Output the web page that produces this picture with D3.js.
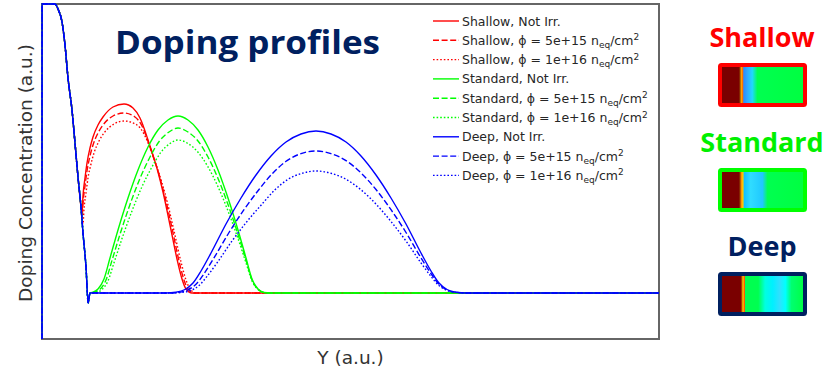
<!DOCTYPE html>
<html>
<head>
<meta charset="utf-8">
<script src="https://cdn.jsdelivr.net/npm/d3@7"></script>
<style>
  html, body { margin: 0; padding: 0; background: #ffffff; }
  svg { display: block; }
</style>
</head>
<body>
<svg id="chart" width="832" height="370"></svg>
<script>
// ---- Doping profile data (arbitrary units: [depth Y, concentration]) ----

// Surface n+ implant, common to every profile
const frontProfile = [
  [0, -4.6], [0.01, 28.9], [1.3, 28.9], [1.6, 28.4], [2.0, 27.1], [2.3, 24.8],
  [2.6, 21.5], [3.0, 18.3], [3.3, 15.0], [3.6, 11.6], [3.9, 8.6]
];
// Tail of the surface implant down to the junction dip
const frontDip = [
  [4.1, 6.0], [4.4, 2.6], [4.62, -1.0], [4.8, 0.0], [5.1, 0.0]
];

const xMax = 61.7;

const shallowNotIrr = [
  [4.0, 7.9], [4.1, 9.7], [4.3, 11.5], [4.5, 13.0], [4.8, 14.5], [5.1, 15.6],
  [5.6, 16.8], [6.1, 17.6], [7.1, 18.6], [8.2, 18.9], [9.1, 18.5], [9.8, 17.5],
  [10.7, 15.0], [11.6, 12.1], [12.1, 10.1], [12.8, 6.8], [13.5, 3.4], [14.0, 1.4],
  [14.4, 0.4], [15.0, 0.0], [xMax, 0.0]
];
const shallowPhi5e15 = [
  [4.0, 7.5], [4.1, 9.0], [4.3, 10.7], [4.5, 12.2], [4.8, 13.7], [5.1, 14.8],
  [5.6, 16.0], [6.1, 16.8], [7.1, 17.7], [8.2, 18.0], [9.3, 17.6], [10.0, 16.7],
  [10.9, 14.3], [11.8, 11.5], [12.3, 9.6], [13.0, 6.5], [13.7, 3.2], [14.2, 1.3],
  [14.6, 0.4], [15.2, 0.0], [xMax, 0.0]
];
const shallowPhi1e16 = [
  [4.1, 6.9], [4.2, 8.4], [4.4, 10.0], [4.6, 11.5], [4.9, 12.9], [5.2, 14.0],
  [5.7, 15.2], [6.2, 16.0], [7.2, 16.9], [8.2, 17.2], [9.5, 16.8], [10.2, 15.9],
  [11.1, 13.7], [12.0, 11.0], [12.5, 9.2], [13.2, 6.2], [13.9, 3.1], [14.4, 1.3],
  [14.8, 0.4], [15.4, 0.0], [xMax, 0.0]
];

const standardNotIrr = [
  [5.0, 0.05], [5.6, 0.4], [6.2, 1.4], [6.8, 3.5], [7.6, 6.3], [8.6, 9.5],
  [9.6, 12.3], [10.6, 14.6], [11.6, 16.3], [12.6, 17.3], [13.6, 17.7], [14.6, 17.3],
  [15.6, 16.3], [16.6, 14.6], [17.6, 12.3], [18.6, 9.5], [19.6, 6.3], [20.4, 3.5],
  [21.0, 1.4], [21.6, 0.4], [22.2, 0.05], [22.8, 0.0], [xMax, 0.0]
];
const standardPhi5e15 = [
  [5.2, 0.05], [5.8, 0.37], [6.4, 1.3], [7.0, 3.26], [7.8, 5.87], [8.8, 8.85],
  [9.8, 11.46], [10.8, 13.6], [11.75, 15.2], [12.7, 16.1], [13.6, 16.5], [14.6, 16.1],
  [15.6, 15.2], [16.6, 13.6], [17.6, 11.46], [18.6, 8.85], [19.6, 5.87], [20.4, 3.26],
  [21.0, 1.3], [21.6, 0.37], [22.2, 0.05], [22.8, 0.0], [xMax, 0.0]
];
const standardPhi1e16 = [
  [5.4, 0.04], [6.0, 0.35], [6.6, 1.21], [7.2, 3.02], [8.0, 5.44], [9.0, 8.21],
  [10.0, 10.63], [11.0, 12.61], [11.9, 14.08], [12.8, 14.95], [13.6, 15.3], [14.6, 14.95],
  [15.6, 14.08], [16.6, 12.61], [17.6, 10.63], [18.6, 8.21], [19.6, 5.44], [20.4, 3.02],
  [21.0, 1.21], [21.6, 0.35], [22.2, 0.04], [22.8, 0.0], [xMax, 0.0]
];

const deepNotIrr = [
  [10.8, 0.0], [12.4, 0.0], [13.4, 0.08], [14.3, 0.35], [15.1, 1.0], [15.9, 2.2],
  [16.9, 4.0], [18.4, 6.9], [19.9, 9.5], [21.4, 11.8], [22.9, 13.7], [24.4, 15.1],
  [25.9, 15.9], [27.4, 16.2], [28.9, 15.9], [30.4, 15.1], [31.9, 13.7], [33.4, 11.8],
  [34.9, 9.5], [36.4, 6.9], [37.9, 4.0], [38.9, 2.2], [39.7, 1.0], [40.5, 0.35],
  [41.4, 0.08], [42.4, 0.0], [xMax, 0.0]
];
const deepPhi5e15 = [
  [10.8, 0.0], [12.7, 0.0], [13.7, 0.07], [14.6, 0.31], [15.4, 0.88], [16.2, 1.93],
  [17.2, 3.51], [18.7, 6.05], [20.2, 8.33], [21.7, 10.35], [23.1, 12.01], [24.5, 13.24],
  [25.9, 13.94], [27.4, 14.2], [28.9, 13.94], [30.4, 13.24], [31.9, 12.01], [33.4, 10.35],
  [34.9, 8.33], [36.4, 6.05], [37.9, 3.51], [38.9, 1.93], [39.7, 0.88], [40.5, 0.31],
  [41.4, 0.07], [42.4, 0.0], [xMax, 0.0]
];
const deepPhi1e16 = [
  [10.8, 0.0], [13.0, 0.0], [14.0, 0.06], [14.9, 0.26], [15.7, 0.75], [16.5, 1.66],
  [17.5, 3.01], [19.0, 5.2], [20.5, 7.15], [22.0, 8.89], [23.3, 10.32], [24.6, 11.37],
  [26.0, 11.97], [27.4, 12.2], [28.9, 11.97], [30.4, 11.37], [31.9, 10.32], [33.4, 8.89],
  [34.9, 7.15], [36.4, 5.2], [37.9, 3.01], [38.9, 1.66], [39.7, 0.75], [40.5, 0.26],
  [41.4, 0.06], [42.4, 0.0], [xMax, 0.0]
];

// Legend text pieces
const profileNames = ["Shallow", "Standard", "Deep"];
const fluences = [null, "5e+15", "1e+16"];
const fluenceUnit = { base: "n", sub: "eq", mid: "/cm", sup: "2" };

// ---- Styling ----
const profileColors = { Shallow: "#ff0000", Standard: "#00ff00", Deep: "#0000ff" };
const labelColors = { Shallow: "#ff0000", Standard: "#00f000", Deep: "#002060" };
const boxColors = { Shallow: "#ff0000", Standard: "#00ff00", Deep: "#002060" };
const dashes = [null, "6,2.6", "1.6,2.0"];

// Each profile: which arrays make up its path
const series = [
  { name: "Shallow", f: 0, data: frontProfile.concat(shallowNotIrr) },
  { name: "Shallow", f: 1, data: frontProfile.concat(shallowPhi5e15) },
  { name: "Shallow", f: 2, data: frontProfile.concat(shallowPhi1e16) },
  { name: "Standard", f: 0, data: frontProfile.concat(frontDip.slice(0, 4), standardNotIrr) },
  { name: "Standard", f: 1, data: frontProfile.concat(frontDip, standardPhi5e15) },
  { name: "Standard", f: 2, data: frontProfile.concat(frontDip, standardPhi1e16) },
  { name: "Deep", f: 0, data: frontProfile.concat(frontDip, deepNotIrr) },
  { name: "Deep", f: 1, data: frontProfile.concat(frontDip, deepPhi5e15) },
  { name: "Deep", f: 2, data: frontProfile.concat(frontDip, deepPhi1e16) }
];

// ---- Layout ----
const plot = { left: 42, right: 659, top: 4, bottom: 339 };

const svg = d3.select("#chart");

const x = d3.scaleLinear().domain([0, xMax]).range([plot.left, plot.right]);
const y = d3.scaleLinear().domain([-4.6, 28.9]).range([plot.bottom, plot.top]);

const defs = svg.append("defs");
defs.append("clipPath").attr("id", "plot-clip")
  .append("rect")
  .attr("x", plot.left - 1).attr("y", plot.top - 1)
  .attr("width", plot.right - plot.left + 2)
  .attr("height", plot.bottom - plot.top + 2);

// Axes frame (no ticks)
svg.append("rect")
  .attr("x", plot.left).attr("y", plot.top)
  .attr("width", plot.right - plot.left)
  .attr("height", plot.bottom - plot.top)
  .attr("fill", "none")
  .attr("stroke", "#666")
  .attr("stroke-width", 2);

const line = d3.line()
  .x(d => x(d[0]))
  .y(d => y(d[1]))
  .curve(d3.curveMonotoneX);

svg.append("g").attr("clip-path", "url(#plot-clip)")
  .selectAll("path")
  .data(series)
  .join("path")
  .attr("d", d => line(d.data))
  .attr("fill", "none")
  .attr("stroke", d => profileColors[d.name])
  .attr("stroke-width", 1.4)
  .attr("stroke-dasharray", d => dashes[d.f]);

// Axis labels
svg.append("text")
  .attr("x", (plot.left + plot.right) / 2)
  .attr("y", 364)
  .attr("text-anchor", "middle")
  .attr("font-family", "DejaVu Sans")
  .attr("font-size", 18.5)
  .attr("fill", "#333")
  .text("Y (a.u.)");

svg.append("text")
  .attr("transform", "translate(32,173) rotate(-90)")
  .attr("text-anchor", "middle")
  .attr("font-family", "DejaVu Sans")
  .attr("font-size", 18.5)
  .attr("fill", "#333")
  .text("Doping Concentration (a.u.)");

// Title
svg.append("text")
  .attr("x", 115)
  .attr("y", 54)
  .attr("font-family", "Open Sans")
  .attr("font-weight", 700)
  .attr("font-size", 33)
  .attr("textLength", 265)
  .attr("lengthAdjust", "spacingAndGlyphs")
  .attr("fill", "#002060")
  .text("Doping profiles");

// Legend
const legend = svg.append("g").attr("font-family", "DejaVu Sans").attr("font-size", 12.5).attr("fill", "#262626");
series.forEach((s, i) => {
  const cy = 21 + i * 19.3;
  legend.append("line")
    .attr("x1", 433).attr("x2", 459)
    .attr("y1", cy).attr("y2", cy)
    .attr("stroke", profileColors[s.name])
    .attr("stroke-width", 1.4)
    .attr("stroke-dasharray", dashes[s.f]);
  const t = legend.append("text").attr("x", 462).attr("y", cy + 4.5);
  if (fluences[s.f] === null) {
    t.text(`${s.name}, Not Irr.`);
  } else {
    t.append("tspan").text(`${s.name}, ϕ = ${fluences[s.f]} ${fluenceUnit.base}`);
    t.append("tspan").attr("dy", 3).attr("font-size", 9).text(fluenceUnit.sub);
    t.append("tspan").attr("dy", -3).text(fluenceUnit.mid);
    t.append("tspan").attr("dy", -4.5).attr("font-size", 9).text(fluenceUnit.sup);
  }
});

// Side panel: profile names with simulated cross-section swatches
const swatchStops = {
  Shallow: [
    [0, "#7a0000"], [0.22, "#7a0000"], [0.235, "#8a3a00"], [0.25, "#ffb000"],
    [0.265, "#ff7000"], [0.28, "#2a8cff"], [0.33, "#30b0ff"], [0.38, "#20d8ff"],
    [0.44, "#00ff50"], [1, "#00ff40"]
  ],
  Standard: [
    [0, "#7a0000"], [0.22, "#7a0000"], [0.235, "#8a3a00"], [0.25, "#ff9000"],
    [0.27, "#ffd000"], [0.285, "#10c0ff"], [0.36, "#30dcff"], [0.50, "#20c8ff"],
    [0.56, "#00ff50"], [1, "#00ff40"]
  ],
  Deep: [
    [0, "#7a0000"], [0.24, "#7a0000"], [0.255, "#b04000"], [0.27, "#ffd000"],
    [0.29, "#ff5000"], [0.30, "#00ff50"], [0.45, "#00ff50"], [0.53, "#00ffe0"],
    [0.62, "#00f0ff"], [0.70, "#30e0ff"], [0.77, "#00ffff"], [0.84, "#00ff70"],
    [1, "#00ff40"]
  ]
};
const panelLabelY = { Shallow: 47, Standard: 152, Deep: 256 };
const panelBoxY = { Shallow: 63, Standard: 168, Deep: 272 };

profileNames.forEach(name => {
  const g = defs.append("linearGradient").attr("id", `grad-${name}`)
    .attr("x1", 0).attr("x2", 1).attr("y1", 0).attr("y2", 0);
  swatchStops[name].forEach(([o, c]) => g.append("stop").attr("offset", o).attr("stop-color", c));

  svg.append("text")
    .attr("x", 762).attr("y", panelLabelY[name])
    .attr("text-anchor", "middle")
    .attr("font-family", "Open Sans")
    .attr("font-weight", 700)
    .attr("font-size", 27)
    .attr("fill", labelColors[name])
    .text(name);

  svg.append("rect")
    .attr("x", 720).attr("y", panelBoxY[name] + 2)
    .attr("width", 85).attr("height", 40)
    .attr("rx", 1.5)
    .attr("fill", `url(#grad-${name})`)
    .attr("stroke", boxColors[name])
    .attr("stroke-width", 4);
});
</script>
</body>
</html>
